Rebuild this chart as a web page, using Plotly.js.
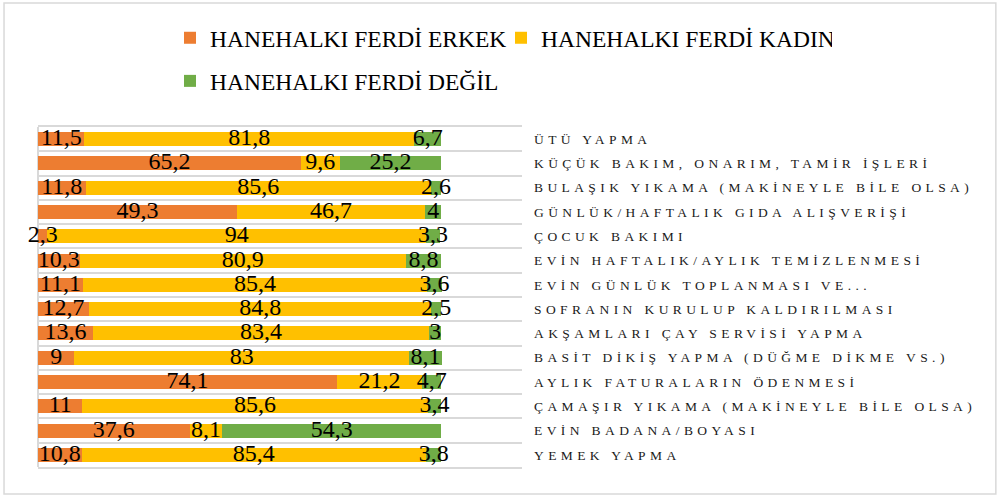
<!DOCTYPE html>
<html>
<head>
<meta charset="utf-8">
<script src="https://cdn.plot.ly/plotly-3.0.1.min.js"></script>
<style>
  html, body { margin: 0; padding: 0; background: #fff; }
  #chart { width: 1000px; height: 497px; }
  #chart .ytick text { letter-spacing: 4.4px; }
</style>
</head>
<body>
<div id="chart"></div>
<script>
const categories = [
  "ÜTÜ YAPMA",
  "KÜÇÜK BAKIM, ONARIM, TAMİR İŞLERİ",
  "BULAŞIK YIKAMA (MAKİNEYLE BİLE OLSA)",
  "GÜNLÜK/HAFTALIK GIDA ALIŞVERİŞİ",
  "ÇOCUK BAKIMI",
  "EVİN HAFTALIK/AYLIK TEMİZLENMESİ",
  "EVİN GÜNLÜK TOPLANMASI VE...",
  "SOFRANIN KURULUP KALDIRILMASI",
  "AKŞAMLARI ÇAY SERVİSİ YAPMA",
  "BASİT DİKİŞ YAPMA (DÜĞME DİKME VS.)",
  "AYLIK FATURALARIN ÖDENMESİ",
  "ÇAMAŞIR YIKAMA (MAKİNEYLE BİLE OLSA)",
  "EVİN BADANA/BOYASI",
  "YEMEK YAPMA"
];
const erkek = [11.5, 65.2, 11.8, 49.3, 2.3, 10.3, 11.1, 12.7, 13.6, 9, 74.1, 11, 37.6, 10.8];
const kadin = [81.8, 9.6, 85.6, 46.7, 94, 80.9, 85.4, 84.8, 83.4, 83, 21.2, 85.6, 8.1, 85.4];
const degil = [6.7, 25.2, 2.6, 4, 3.3, 8.8, 3.6, 2.5, 3, 8.1, 4.7, 3.4, 54.3, 3.8];
const seriesNames = ["HANEHALKI FERDİ ERKEK", "HANEHALKI FERDİ KADIN", "HANEHALKI FERDİ DEĞİL"];
const seriesColors = ["#ED7D31", "#FFC000", "#70AD47"];

const fmt = v => String(v).replace('.', ',');
const serif = "Liberation Serif, Times New Roman, serif";

function mk(vals, i, legendId) {
  return {
    type: 'bar', orientation: 'h',
    y: categories, x: vals,
    name: seriesNames[i],
    legend: legendId,
    marker: { color: seriesColors[i] },
    textposition: 'none',
    hoverinfo: 'skip'
  };
}

// Value labels drawn above all bars, centred on each stacked segment
const series = [erkek, kadin, degil];
const labelX = [], labelY = [], labelT = [];
categories.forEach((c, j) => {
  let base = 0;
  series.forEach(s => {
    labelX.push(base + s[j] / 2);
    labelY.push(c);
    labelT.push(fmt(s[j]));
    base += s[j];
  });
});

const data = [
  mk(erkek, 0, 'legend'), mk(kadin, 1, 'legend'), mk(degil, 2, 'legend2'),
  {
    type: 'scatter', mode: 'text', x: labelX, y: labelY, text: labelT,
    textposition: 'middle center', cliponaxis: false, showlegend: false,
    textfont: { family: serif, size: 24, color: '#000' }, hoverinfo: 'skip'
  }
];

const layout = {
  width: 1000, height: 497,
  margin: { l: 38, r: 478, t: 127, b: 30, autoexpand: false },
  paper_bgcolor: '#fff', plot_bgcolor: '#fff',
  barmode: 'stack', bargap: 0.42,
  showlegend: true,
  legend: {
    orientation: 'h', xanchor: 'right', x: 1.6405, yanchor: 'middle', y: 1.2618,
    entrywidth: 286, entrywidthmode: 'pixels',
    font: { family: serif, size: 23.5, color: '#000' },
    bgcolor: 'rgba(0,0,0,0)', traceorder: 'normal'
  },
  legend2: {
    orientation: 'h', xanchor: 'left', x: 0.2727, yanchor: 'middle', y: 1.135,
    font: { family: serif, size: 23.5, color: '#000' },
    bgcolor: 'rgba(0,0,0,0)'
  },
  xaxis: {
    range: [0, 120], autorange: false, showticklabels: false, showgrid: false,
    zeroline: true, zerolinecolor: '#d9d9d9', zerolinewidth: 2,
    showline: true, mirror: true, linecolor: '#d9d9d9', linewidth: 2,
    ticks: '', fixedrange: true
  },
  yaxis: {
    type: 'category', categoryorder: 'array', categoryarray: categories,
    range: [categories.length - 0.5, -0.5], autorange: false, side: 'right',
    tickson: 'boundaries', showgrid: true, gridcolor: '#d9d9d9', gridwidth: 2,
    ticks: '', ticklabelstandoff: 11,
    showline: false, zeroline: false,
    tickfont: { family: serif, size: 13.5, color: '#1a1a1a' },
    fixedrange: true
  },
  shapes: [{
    type: 'rect', xref: 'paper', yref: 'paper',
    x0: -0.0702, x1: 1.979, y0: -0.0794, y1: 1.3647,
    line: { color: '#d9d9d9', width: 1.5 }, fillcolor: 'rgba(0,0,0,0)', layer: 'below'
  }]
};

Plotly.newPlot('chart', data, layout, { displayModeBar: false, staticPlot: true });
</script>
</body>
</html>
